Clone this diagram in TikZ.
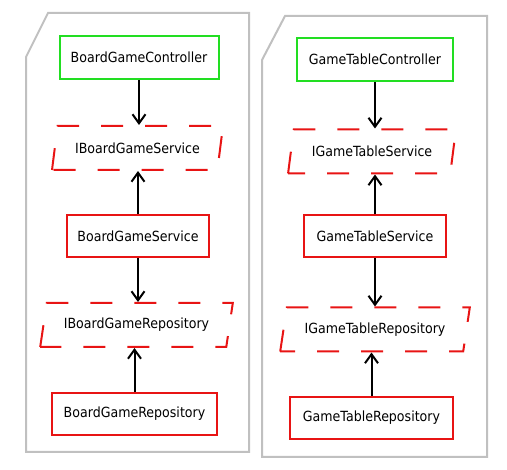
\documentclass[tikz,border=0pt]{standalone}
\usepackage{fontspec}
\setmainfont{DejaVu Sans}[FakeStretch=0.9]
\usetikzlibrary{shapes.geometric}
\usetikzlibrary{arrows.meta}
\definecolor{boxgreen}{RGB}{34,222,34}
\definecolor{boxred}{RGB}{232,20,20}
\definecolor{panelgray}{RGB}{192,192,192}

\begin{document}
\begin{tikzpicture}[x=1pt,y=-1pt,
	font=\fontsize{14}{16}\selectfont,
	ctrlbox/.style={draw=boxgreen,line width=2pt,minimum height=43pt,inner sep=2pt},
	implbox/.style={draw=boxred,line width=2pt,minimum height=42pt,inner sep=2pt},
	ifacebox/.style={trapezium,trapezium stretches=true,trapezium left angle=71,trapezium right angle=109,
		draw=boxred,line width=2pt,dash pattern=on 22pt off 22pt,minimum height=44pt,inner sep=1pt},
	dep/.style={line width=2pt,-{Straight Barb[length=9pt,width=13pt,line width=2pt]}}]
	\useasboundingbox (0,0) rectangle (507,470);
	
	% left panel
	\draw[panelgray,line width=2pt] (48,13) -- (249,13) -- (249,452) -- (26,452) -- (26,57) -- cycle;
	
	\node[ctrlbox,minimum width=159pt] (bgc) at (139,57.5) {BoardGameController};
	\node[ifacebox,minimum width=171pt] (ibgs) at (137.5,148) {IBoardGameService};
	\node[implbox,minimum width=142pt] (bgs) at (138,236) {BoardGameService};
	\node[ifacebox,minimum width=193pt] (ibgr) at (136.5,325) {IBoardGameRepository};
	\node[implbox,minimum width=165pt] (bgr) at (134.5,414) {BoardGameRepository};
	
	\draw[dep] (bgc) -- (bgc |- ibgs.north);
	\draw[dep] (bgs) -- (bgs |- ibgs.south);
	\draw[dep] (bgs) -- (bgs |- ibgr.north);
	\draw[dep] (bgr) -- (bgr |- ibgr.south);
	
	% right panel
	\draw[panelgray,line width=2pt] (285,16) -- (487,16) -- (487,457) -- (262,457) -- (262,60) -- cycle;
	
	\node[ctrlbox,minimum width=156pt] (gtc) at (375,59.5) {GameTableController};
	\node[ifacebox,minimum width=168pt] (igts) at (372,151.5) {IGameTableService};
	\node[implbox,minimum width=142pt] (gts) at (375,236.5) {GameTableService};
	\node[ifacebox,minimum width=190pt] (igtr) at (375,329.5) {IGameTableRepository};
	\node[implbox,minimum width=163pt] (gtr) at (371.5,418) {GameTableRepository};
	
	\draw[dep] (gtc) -- (gtc |- igts.north);
	\draw[dep] (gts) -- (gts |- igts.south);
	\draw[dep] (gts) -- (gts |- igtr.north);
	\draw[dep] (gtr) -- (gtr |- igtr.south);
	
\end{tikzpicture}
\end{document}
